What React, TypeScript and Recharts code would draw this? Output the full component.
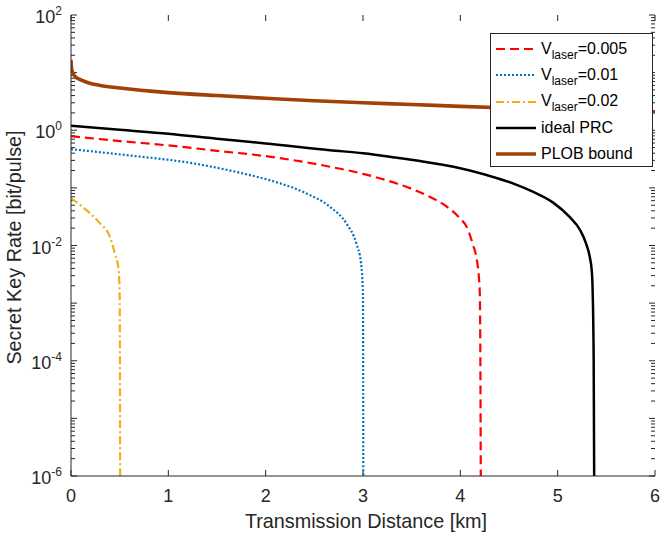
import React from 'react';
import { LineChart, Line, XAxis, YAxis, Label, ReferenceLine } from 'recharts';

const FONT = '"Liberation Sans", Arial, Helvetica, sans-serif';
const AXIS = '#262626';

// axis ticks
const xTicks = [0, 1, 2, 3, 4, 5, 6];
const yDecades = [-6, -5, -4, -3, -2, -1, 0, 1, 2];
const yLabelled = [-6, -4, -2, 0, 2];

// V_laser = 0.005
const dist005 = [0, 0.5, 1, 1.5, 2, 2.66, 3.0, 3.34, 3.65, 3.84, 3.98, 4.08, 4.13, 4.17, 4.19, 4.2, 4.205, 4.21];
const rate005 = [0.79, 0.65, 0.545, 0.44, 0.355, 0.233, 0.175, 0.12, 0.075, 0.05, 0.0316, 0.0186, 0.0102, 0.0056, 0.0029, 0.0015, 0.0002, 1e-6];

// V_laser = 0.01
const dist01 = [0, 0.57, 1.26, 1.735, 2.08, 2.42, 2.66, 2.83, 2.93, 2.98, 3.0, 3.003];
const rate01 = [0.47, 0.37, 0.266, 0.183, 0.13, 0.08, 0.047, 0.024, 0.011, 0.0049, 0.0013, 1e-6];

// V_laser = 0.02
const dist02 = [0, 0.16, 0.3, 0.4, 0.45, 0.49, 0.5, 0.505];
const rate02 = [0.066, 0.041, 0.024, 0.014, 0.0073, 0.0037, 0.0013, 1e-6];

// ideal PRC
const distIdeal = [0, 0.5, 1, 1.5, 2, 2.66, 3.0, 3.34, 3.6, 3.93, 4.27, 4.54, 4.75, 4.95, 5.12, 5.23, 5.29, 5.33, 5.35, 5.36, 5.37, 5.375];
const rateIdeal = [1.2, 1.02, 0.87, 0.71, 0.59, 0.45, 0.4, 0.336, 0.29, 0.232, 0.167, 0.12, 0.085, 0.056, 0.0316, 0.0186, 0.011, 0.0063, 0.0037, 0.0015, 0.0001, 1e-6];

// PLOB bound
const distPlob = [0, 0.005, 0.02, 0.05, 0.1, 0.2, 0.3, 0.5, 1, 1.5, 2, 2.5, 3, 3.5, 4, 4.5, 5, 5.5, 6];
const ratePlob = [16.6, 12, 9.8, 8.3, 7.5, 6.5, 6.0, 5.4, 4.5, 4.0, 3.6, 3.25, 3.0, 2.8, 2.6, 2.43, 2.3, 2.2, 2.1];

const toPoints = (xs: number[], ys: number[]) => xs.map((x, i) => ({ x, y: ys[i] }));

const yTicks: number[] = [];
yDecades.forEach((d) => {
    yTicks.push(Math.pow(10, d));
    if (d < 2) for (let m = 2; m <= 9; m++) yTicks.push(m * Math.pow(10, d));
});

const VLabel = ({ v }: { v: string }) => (
    <span>
        V<span style={{ fontSize: 12, position: 'relative', top: 5 }}>laser</span>={v}
    </span>
);

const series = [
    { key: 'v005', label: <VLabel v="0.005" />, data: toPoints(dist005, rate005), color: '#FF0000', width: 2.2, dash: '9 5' },
    { key: 'v01', label: <VLabel v="0.01" />, data: toPoints(dist01, rate01), color: '#0072BD', width: 2.2, dash: '2 2' },
    { key: 'v02', label: <VLabel v="0.02" />, data: toPoints(dist02, rate02), color: '#EDB120', width: 2.2, dash: '8 3 2 3' },
    { key: 'ideal', label: 'ideal PRC', data: toPoints(distIdeal, rateIdeal), color: '#000000', width: 2.5, dash: undefined },
    { key: 'plob', label: 'PLOB bound', data: toPoints(distPlob, ratePlob), color: '#A2400A', width: 3.6, dash: undefined },
];

const decadeOf = (v: number) => {
    const e = Math.log10(v);
    const r = Math.round(e);
    return Math.abs(e - r) < 1e-6 ? r : null;
};

const LeftTick = (props: any) => {
    const { x, y, payload } = props;
    const r = decadeOf(payload.value);
    if (r === null || !yLabelled.includes(r)) return <g />;
    return (
        <text x={x - 9} y={y + 8} textAnchor="end" fontFamily={FONT} fontSize={18} fill={AXIS}>
            <tspan>10</tspan>
            <tspan dy={-8} fontSize={12}>{r}</tspan>
        </text>
    );
};

const BottomTick = (props: any) => {
    const { x, y, payload } = props;
    return (
        <text x={x} y={y + 26} textAnchor="middle" fontFamily={FONT} fontSize={18} fill={AXIS}>
            {payload.value}
        </text>
    );
};

// inward tick marks (MATLAB box style): a reference line that only draws its two ends
const horizontalMarks = (len: number) => (p: any) => {
    const l = Math.min(p.x1, p.x2);
    const r = Math.max(p.x1, p.x2);
    return (
        <g>
            <line x1={l} x2={l + len} y1={p.y1} y2={p.y1} stroke={AXIS} />
            <line x1={r - len} x2={r} y1={p.y1} y2={p.y1} stroke={AXIS} />
        </g>
    );
};

const verticalMarks = (len: number) => (p: any) => {
    const t = Math.min(p.y1, p.y2);
    const b = Math.max(p.y1, p.y2);
    return (
        <g>
            <line x1={p.x1} x2={p.x1} y1={b} y2={b - len} stroke={AXIS} />
            <line x1={p.x1} x2={p.x1} y1={t} y2={t + len} stroke={AXIS} />
        </g>
    );
};

const ChartLegend = () => (
    <div
        style={{
            position: 'absolute',
            left: 490,
            top: 33,
            width: 163,
            height: 134,
            boxSizing: 'border-box',
            border: `1px solid ${AXIS}`,
            background: '#fff',
            fontFamily: FONT,
            fontSize: 16,
            color: '#000',
        }}
    >
        {series.map((s, i) => (
            <div
                key={s.key}
                style={{ position: 'absolute', left: 4, top: 2 + i * 26.3, height: 26, display: 'flex', alignItems: 'center' }}
            >
                <svg width={42} height={10} style={{ marginRight: 4 }}>
                    <line x1={1} x2={41} y1={5} y2={5} stroke={s.color} strokeWidth={s.width} strokeDasharray={s.dash} />
                </svg>
                <span style={{ whiteSpace: 'nowrap', lineHeight: '16px' }}>{s.label}</span>
            </div>
        ))}
    </div>
);

export default function App() {
    return (
        <div style={{ position: 'absolute', left: 0, top: 0, width: 661, height: 534, background: '#fff' }}>
            <LineChart width={661} height={534} margin={{ top: 15, right: 6, bottom: 0, left: 0 }}>
                <XAxis
                    dataKey="x"
                    type="number"
                    domain={[0, 6]}
                    ticks={xTicks}
                    interval={0}
                    allowDataOverflow
                    height={58}
                    tickSize={0}
                    tickMargin={0}
                    tickLine={false}
                    tick={<BottomTick />}
                    axisLine={{ stroke: AXIS }}
                >
                    <Label
                        content={(p: any) => (
                            <text
                                x={p.viewBox.x + p.viewBox.width / 2 + 3}
                                y={p.viewBox.y + 52}
                                textAnchor="middle"
                                fontFamily={FONT}
                                fontSize={19.8}
                                fill={AXIS}
                            >
                                Transmission Distance [km]
                            </text>
                        )}
                    />
                </XAxis>
                <XAxis
                    xAxisId="top"
                    orientation="top"
                    dataKey="x"
                    type="number"
                    domain={[0, 6]}
                    allowDataOverflow
                    height={0}
                    tickLine={false}
                    tick={false}
                    axisLine={{ stroke: AXIS }}
                />
                <YAxis
                    scale="log"
                    domain={[1e-6, 100]}
                    allowDataOverflow
                    ticks={yTicks}
                    interval={0}
                    width={71}
                    tickSize={0}
                    tickMargin={0}
                    tickLine={false}
                    tick={<LeftTick />}
                    axisLine={{ stroke: AXIS }}
                >
                    <Label
                        content={(p: any) => {
                            const cx = p.viewBox.x + 21;
                            const cy = p.viewBox.y + p.viewBox.height / 2 + 2;
                            return (
                                <text
                                    x={cx}
                                    y={cy}
                                    transform={`rotate(-90 ${cx} ${cy})`}
                                    textAnchor="middle"
                                    fontFamily={FONT}
                                    fontSize={19.8}
                                    fill={AXIS}
                                >
                                    Secret Key Rate [bit/pulse]
                                </text>
                            );
                        }}
                    />
                </YAxis>
                <YAxis
                    yAxisId="right"
                    orientation="right"
                    scale="log"
                    domain={[1e-6, 100]}
                    allowDataOverflow
                    width={0}
                    tickLine={false}
                    tick={false}
                    axisLine={{ stroke: AXIS }}
                />
                {yTicks.map((v) => (
                    <ReferenceLine
                        key={`yt-${v}`}
                        y={v}
                        ifOverflow="visible"
                        shape={horizontalMarks(decadeOf(v) !== null ? 6 : 4)}
                    />
                ))}
                {xTicks.map((v) => (
                    <ReferenceLine key={`xt-${v}`} x={v} ifOverflow="visible" shape={verticalMarks(6)} />
                ))}
                {series.map((s) => (
                    <Line
                        key={s.key}
                        data={s.data}
                        dataKey="y"
                        type="monotone"
                        stroke={s.color}
                        strokeWidth={s.width}
                        strokeDasharray={s.dash}
                        dot={false}
                        activeDot={false}
                        isAnimationActive={false}
                    />
                ))}
            </LineChart>
            <ChartLegend />
        </div>
    );
}
